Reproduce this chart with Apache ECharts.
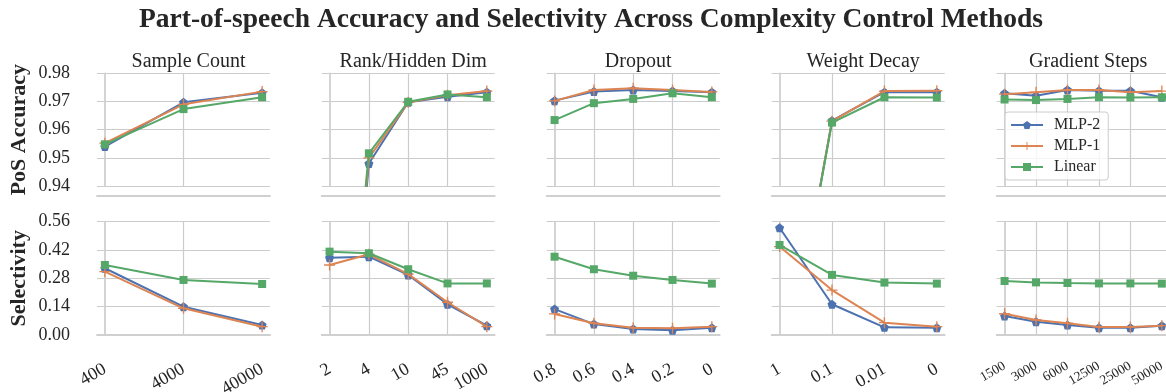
<!DOCTYPE html>
<html><head><meta charset="utf-8">
<script src="https://cdn.jsdelivr.net/npm/echarts@6/dist/echarts.min.js"></script>
<style>html,body{margin:0;padding:0;background:#fff}#c{width:1166px;height:392px}</style>
</head><body><div id="c"></div>
<script>
// ---------- data ----------
const seriesNames = ['MLP-2', 'MLP-1', 'Linear'];
const panelTitles = ['Sample Count', 'Rank/Hidden Dim', 'Dropout', 'Weight Decay', 'Gradient Steps'];
const rowTitles = ['PoS Accuracy', 'Selectivity'];

const sampleCats = ['400', '4000', '40000'];
const rankCats = ['2', '4', '10', '45', '1000'];
const dropoutCats = ['0.8', '0.6', '0.4', '0.2', '0'];
const decayCats = ['1', '0.1', '0.01', '0'];
const stepsCats = ['1500', '3000', '6000', '12500', '25000', '50000'];

const accTicks = [0.94, 0.95, 0.96, 0.97, 0.98];
const selTicks = [0.00, 0.14, 0.28, 0.42, 0.56];

// PoS accuracy
const accSampleMlp2 = [0.9540, 0.9697, 0.9731];
const accSampleMlp1 = [0.9552, 0.9690, 0.9735];
const accSampleLin  = [0.9548, 0.9673, 0.9715];
const accRankMlp2 = [0.79, 0.9480, 0.9697, 0.9717, 0.9733];
const accRankMlp1 = [0.80, 0.9500, 0.9697, 0.9722, 0.9737];
const accRankLin  = [0.81, 0.9516, 0.9699, 0.9725, 0.9715];
const accDropMlp2 = [0.9703, 0.9735, 0.9741, 0.9737, 0.9733];
const accDropMlp1 = [0.9702, 0.9741, 0.9747, 0.9741, 0.9734];
const accDropLin  = [0.9634, 0.9694, 0.9709, 0.9729, 0.9715];
const accDecayMlp2 = [0.86, 0.9632, 0.9733, 0.9733];
const accDecayMlp1 = [0.86, 0.9630, 0.9737, 0.9738];
const accDecayLin  = [0.86, 0.9625, 0.9715, 0.9714];
const accStepsMlp2 = [0.9729, 0.9720, 0.9741, 0.9738, 0.9738, 0.9715];
const accStepsMlp1 = [0.9726, 0.9733, 0.9741, 0.9741, 0.9733, 0.9737];
const accStepsLin  = [0.9707, 0.9705, 0.9709, 0.9715, 0.9714, 0.9715];

// Selectivity
const selSampleMlp2 = [0.330, 0.140, 0.049];
const selSampleMlp1 = [0.313, 0.132, 0.041];
const selSampleLin  = [0.346, 0.272, 0.252];
const selRankMlp2 = [0.382, 0.387, 0.297, 0.152, 0.046];
const selRankMlp1 = [0.346, 0.399, 0.301, 0.162, 0.041];
const selRankLin  = [0.412, 0.404, 0.325, 0.255, 0.255];
const selDropMlp2 = [0.128, 0.054, 0.030, 0.023, 0.036];
const selDropMlp1 = [0.104, 0.058, 0.036, 0.033, 0.041];
const selDropLin  = [0.387, 0.325, 0.293, 0.272, 0.254];
const selDecayMlp2 = [0.530, 0.152, 0.038, 0.036];
const selDecayMlp1 = [0.437, 0.222, 0.061, 0.041];
const selDecayLin  = [0.445, 0.297, 0.259, 0.254];
const selStepsMlp2 = [0.094, 0.066, 0.049, 0.036, 0.036, 0.046];
const selStepsMlp1 = [0.105, 0.074, 0.058, 0.040, 0.040, 0.046];
const selStepsLin  = [0.267, 0.260, 0.257, 0.255, 0.255, 0.254];

// ---------- assembly ----------
const panelCats = [sampleCats, rankCats, dropoutCats, decayCats, stepsCats];
const accData = [
  [accSampleMlp2, accSampleMlp1, accSampleLin],
  [accRankMlp2, accRankMlp1, accRankLin],
  [accDropMlp2, accDropMlp1, accDropLin],
  [accDecayMlp2, accDecayMlp1, accDecayLin],
  [accStepsMlp2, accStepsMlp1, accStepsLin]
];
const selData = [
  [selSampleMlp2, selSampleMlp1, selSampleLin],
  [selRankMlp2, selRankMlp1, selRankLin],
  [selDropMlp2, selDropMlp1, selDropLin],
  [selDecayMlp2, selDecayMlp1, selDecayLin],
  [selStepsMlp2, selStepsMlp1, selStepsLin]
];
const rowTickSets = [accTicks, selTicks];

const FONT = 'Liberation Serif';
const TXT = '#262626';
const GRID_C = '#cccccc';
const SPINE_C = '#d0d0d0';
const colors = ['#4C72B0', '#DD8452', '#55A868'];
const symbols = [
  'path://M0,-1L0.951,-0.309L0.588,0.809L-0.588,0.809L-0.951,-0.309Z',
  'path://M-0.12,-1L0.12,-1L0.12,-0.12L1,-0.12L1,0.12L0.12,0.12L0.12,1L-0.12,1L-0.12,0.12L-1,0.12L-1,-0.12L-0.12,-0.12Z',
  'rect'
];
const symbolSizes = [9, 11, 8];

const colLeft = [97, 321.7, 546.7, 771.7, 996.7];
const colW = 173;
const rowTop = [73.3, 221.7];
const rowH = [112.7, 113.3];

const grids = [], xAxes = [], yAxes = [], series = [], titles = [];

titles.push({
  text: 'Part-of-speech Accuracy and Selectivity Across Complexity Control Methods',
  left: 586, top: 1, textAlign: 'center',
  textStyle: {fontFamily: FONT, fontWeight: 'bold', fontSize: 27.5, color: TXT}
});
for (let c = 0; c < 5; c++) {
  titles.push({
    text: panelTitles[c], left: colLeft[c] + colW / 2, top: 47, textAlign: 'center',
    textStyle: {fontFamily: FONT, fontWeight: 'normal', fontSize: 20, color: TXT}
  });
}

let gi = 0;
for (let r = 0; r < 2; r++) {
  const ticks = rowTickSets[r];
  for (let c = 0; c < 5; c++) {
    const cats = panelCats[c];
    const n = cats.length;
    const idx = cats.map((_, k) => k);
    grids.push({left: colLeft[c], top: rowTop[r], width: colW, height: rowH[r], outerBoundsMode: 'none', containLabel: false});
    xAxes.push({
      gridIndex: gi, type: 'value',
      min: -0.05 * (n - 1), max: 1.05 * (n - 1),
      offset: 10,
      axisLine: {show: true, lineStyle: {color: SPINE_C, width: 1.8}},
      axisTick: {show: false, customValues: idx},
      axisLabel: {
        show: r === 1, customValues: idx, rotate: 30, margin: c === 4 ? 20 : 23,
        formatter: v => cats[Math.round(v)],
        fontFamily: FONT, fontSize: c === 4 ? 13.5 : 18, color: TXT
      },
      splitLine: {show: true, showMinLine: false, showMaxLine: false, lineStyle: {color: GRID_C, width: 1.2}}
    });
    yAxes.push({
      gridIndex: gi, type: 'value',
      min: ticks[0], max: ticks[ticks.length - 1], interval: ticks[1] - ticks[0],
      offset: 10,
      name: c === 0 ? rowTitles[r] : '',
      nameLocation: 'middle', nameRotate: 90, nameGap: 57,
      nameTextStyle: {fontFamily: FONT, fontWeight: 'bold', fontSize: 22, color: TXT},
      axisLine: {show: true, lineStyle: {color: SPINE_C, width: 1.8}},
      axisTick: {show: false},
      axisLabel: {
        show: c === 0, margin: 17, fontFamily: FONT, fontSize: 18, color: TXT,
        formatter: v => v.toFixed(2)
      },
      splitLine: {show: true, lineStyle: {color: GRID_C, width: 1.2}}
    });
    const rowData = r === 0 ? accData[c] : selData[c];
    for (let s = 0; s < 3; s++) {
      series.push({
        type: 'line', name: seriesNames[s], xAxisIndex: gi, yAxisIndex: gi,
        data: rowData[s].map((v, k) => [k, v]),
        symbol: symbols[s], symbolSize: symbolSizes[s], showAllSymbol: true,
        lineStyle: {color: colors[s], width: 2},
        itemStyle: {color: colors[s]},
        clip: true, z: 2 + s
      });
    }
    gi++;
  }
}

const chart = echarts.init(document.getElementById('c'), null, {renderer: 'canvas'});
chart.setOption({
  animation: false,
  backgroundColor: '#ffffff',
  title: titles,
  grid: grids,
  xAxis: xAxes,
  yAxis: yAxes,
  legend: {
    data: seriesNames, orient: 'vertical', left: 1005, top: 112,
    itemWidth: 32, itemHeight: 10, itemGap: 5,
    padding: [5, 8, 5, 5],
    borderColor: '#cccccc', borderWidth: 1, borderRadius: 3,
    backgroundColor: 'rgba(255,255,255,0.8)',
    textStyle: {fontFamily: FONT, fontSize: 16, color: TXT, padding: [0, 0, 0, 6]}
  },
  series: series
});
</script>
</body></html>
